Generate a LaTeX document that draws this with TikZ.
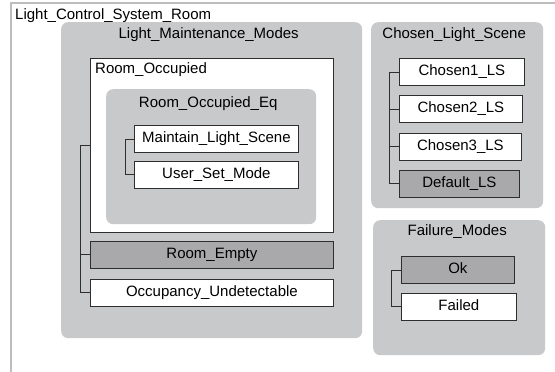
\documentclass[tikz,border=0pt]{standalone}
\usepackage{fontspec}
\setmainfont{Liberation Sans}
\usetikzlibrary{positioning}
\definecolor{frame}{HTML}{BDBDBD}
\definecolor{grp}{HTML}{C8C9CB}
\definecolor{dark}{HTML}{A9A9AB}
\definecolor{ink}{HTML}{2E2E2E}

\begin{document}
\begin{tikzpicture}[
  x=1pt,y=-1pt,
  font=\fontsize{15}{16}\selectfont,
  group/.style={rounded corners=7pt,fill=grp,draw=none,anchor=north west,inner sep=0pt},
  state/.style={draw=ink,line width=0.8pt,fill=white,anchor=north west,inner sep=0pt,minimum height=27pt,text height=10.5pt,text depth=3pt},
  dstate/.style={state,fill=dark},
  title/.style={inner sep=0pt,text height=10.5pt,text depth=3pt,anchor=north},
  tree/.style={draw=ink,line width=0.8pt}
]
\useasboundingbox (0,0) rectangle (555,372);
% outer frame
\draw[frame,line width=1.2pt] (11,372) -- (11,3) -- (555,3);
\node[title,anchor=base west] (room) at (15,19.5) {Light\_Control\_System\_Room};

% Light_Maintenance_Modes
\node[group,minimum width=301pt,minimum height=316pt] (lmm) at (61,22) {};
\node[title,below=6pt of lmm.north,xshift=-3pt] (lmm-t) {Light\_Maintenance\_Modes};
\node[state,minimum width=243pt,minimum height=174pt] (ro) at (90,58) {};
\node[title,below right=5pt and 5pt of ro.north west,anchor=north west] (ro-t) {Room\_Occupied};
\node[group,minimum width=210pt,minimum height=135pt] (roe) at (106,89) {};
\node[title,below=8pt of roe.north,xshift=-3pt] (roe-t) {Room\_Occupied\_Eq};
\node[state,minimum width=164pt] (mls) at (134,125) {Maintain\_Light\_Scene};
\node[state,minimum width=164pt,below=8pt of mls] (usm) {User\_Set\_Mode};
\node[dstate,minimum width=243pt,below=8pt of ro] (re) {Room\_Empty};
\node[state,minimum width=243pt,below=10pt of re] (ou) {Occupancy\_Undetectable};
\draw[tree] (ro.west) -- ++(-10pt,0) |- (ou.west);
\draw[tree] (re.west) -- ++(-10pt,0);
\draw[tree] (mls.west) -- ++(-9pt,0) |- (usm.west);

% Chosen_Light_Scene
\node[group,minimum width=172pt,minimum height=186pt] (cls) at (371,22) {};
\node[title,below=6pt of cls.north,xshift=-3pt] (cls-t) {Chosen\_Light\_Scene};
\node[state,minimum width=125pt] (c1) at (399,58) {Chosen1\_LS};
\node[state,minimum width=123pt,below=9.5pt of c1.south west,anchor=north west] (c2) {Chosen2\_LS};
\node[state,minimum width=122pt,below=9.5pt of c2.south west,anchor=north west] (c3) {Chosen3\_LS};
\node[dstate,minimum width=120pt,below=9.5pt of c3.south west,anchor=north west] (dls) {Default\_LS};
\draw[tree] (c1.west) -- ++(-10pt,0) |- (dls.west);
\draw[tree] (c2.west) -- ++(-10pt,0);
\draw[tree] (c3.west) -- ++(-10pt,0);

% Failure_Modes
\node[group,minimum width=172pt,minimum height=135pt] (fm) at (373,220) {};
\node[title,below=4.5pt of fm.north,xshift=-2pt] (fm-t) {Failure\_Modes};
\node[dstate,minimum width=113pt] (ok) at (401,256) {Ok};
\node[state,minimum width=115pt,below=9pt of ok.south west,anchor=north west] (failed) {Failed};
\draw[tree] (ok.west) -- ++(-10pt,0) |- (failed.west);
\end{tikzpicture}
\end{document}
